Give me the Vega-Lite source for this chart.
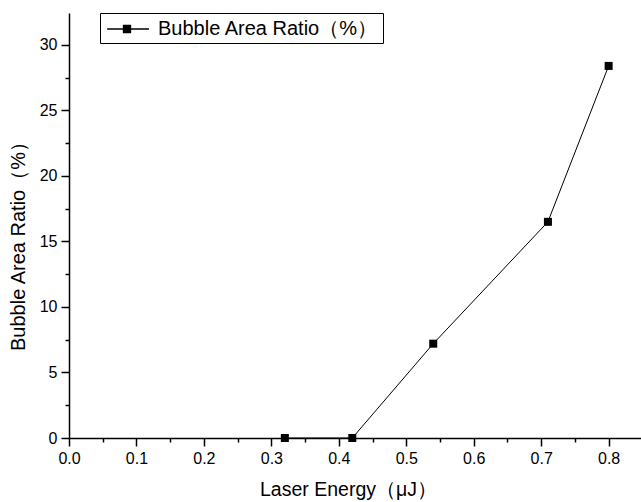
{
  "$schema": "https://vega.github.io/schema/vega-lite/v6.json",
  "autosize": "none",
  "width": 572,
  "height": 425,
  "padding": {"left": 69, "top": 13, "right": 0, "bottom": 64},
  "background": "white",
  "config": {
    "view": {"stroke": null},
    "font": "Liberation Sans",
    "axis": {"domainColor": "black", "tickColor": "black", "labelColor": "black", "titleColor": "black", "grid": false, "labelFont": "Liberation Sans", "titleFont": "Liberation Sans", "titleFontWeight": "normal", "domainWidth": 1.5, "tickWidth": 1.5, "labelFlush": false, "labelOverlap": false}
  },
  "data": {"values": [
    {"energy": 0.32, "ratio": 0},
    {"energy": 0.42, "ratio": 0},
    {"energy": 0.54, "ratio": 7.2},
    {"energy": 0.71, "ratio": 16.5},
    {"energy": 0.80, "ratio": 28.4}
  ]},
  "layer": [
    {
      "mark": {"type": "line", "color": "black", "strokeWidth": 1, "clip": false},
      "encoding": {
        "x": {"field": "energy", "type": "quantitative", "scale": {"domain": [0, 0.848], "nice": false, "zero": false},
          "axis": {"orient": "bottom", "values": [0, 0.1, 0.2, 0.3, 0.4, 0.5, 0.6, 0.7, 0.8], "format": ".1f", "tickSize": 8, "labelFontSize": 16, "labelPadding": 4, "labelFlush": false, "title": "Laser Energy（μJ）", "titleFontSize": 19.5, "titlePadding": 14, "titleX": 279}},
        "y": {"field": "ratio", "type": "quantitative", "scale": {"domain": [0, 32.44], "nice": false},
          "axis": {"orient": "left", "values": [0, 5, 10, 15, 20, 25, 30], "format": "d", "tickSize": 8, "labelFontSize": 16, "labelPadding": 4, "labelFlush": false, "title": "Bubble Area Ratio（%）", "titleFontSize": 20, "titlePadding": 11, "titleY": 228}},
        "color": {"datum": "Bubble Area Ratio（%）", "type": "nominal", "scale": {"range": ["black"]},
          "legend": {"title": null, "orient": "none", "legendX": 31, "legendY": 0, "strokeColor": "black", "padding": 4, "fillColor": "white",
            "symbolType": "M-0.8,0H3M0.68,-0.32H1.32V0.32H0.68Z", "symbolSize": 484, "symbolStrokeWidth": 1.3,
            "labelFontSize": 20, "labelFont": "Liberation Sans", "labelColor": "black", "labelOffset": 30, "labelLimit": 500,
            "encode": {"symbols": {"update": {"fill": {"value": "black"}, "stroke": {"value": "black"}, "strokeWidth": {"value": 1.3}}}}}}
      }
    },
    {
      "mark": {"type": "point", "shape": "square", "filled": true, "color": "black", "size": 64, "opacity": 1, "clip": false},
      "encoding": {
        "x": {"field": "energy", "type": "quantitative",
          "axis": {"orient": "bottom", "values": [0.05, 0.15, 0.25, 0.35, 0.45, 0.55, 0.65, 0.75, 0.85], "labels": false, "tickSize": 4, "title": null, "domain": false}},
        "y": {"field": "ratio", "type": "quantitative",
          "axis": {"orient": "left", "values": [2.5, 7.5, 12.5, 17.5, 22.5, 27.5, 32.5], "labels": false, "tickSize": 4, "title": null, "domain": false}}
      }
    }
  ],
  "resolve": {"axis": {"x": "independent", "y": "independent"}}
}
